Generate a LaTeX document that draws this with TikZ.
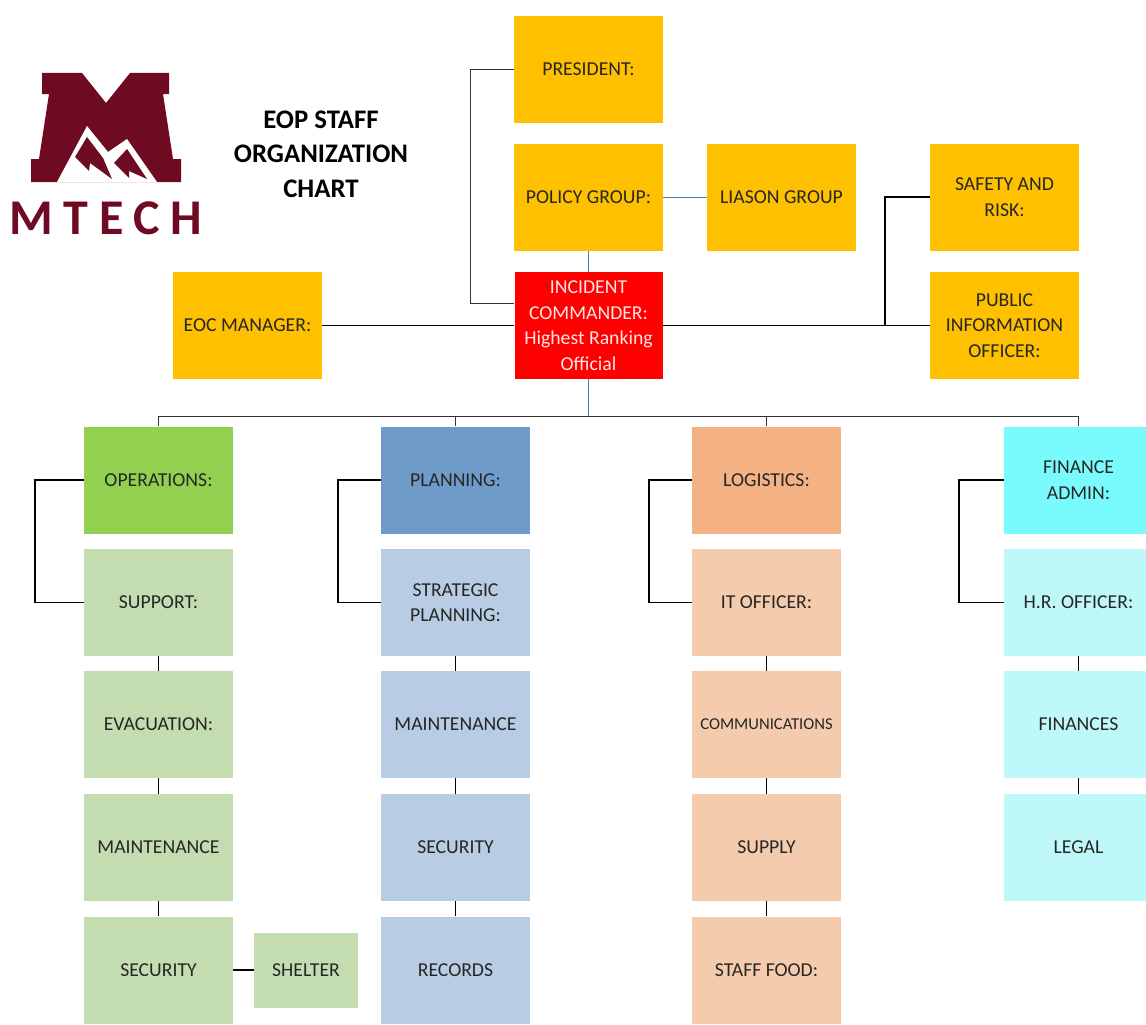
\documentclass[tikz,border=0pt]{standalone}
\usepackage{fontspec}
\setmainfont{Carlito}
\definecolor{amber}{HTML}{FFC000}
\definecolor{maroon}{HTML}{6E0A22}
\definecolor{opsg}{HTML}{92D050}
\definecolor{opsl}{HTML}{C3DDB0}
\definecolor{planb}{HTML}{6F9BC8}
\definecolor{planl}{HTML}{B8CCE4}
\definecolor{logo}{HTML}{F4B183}
\definecolor{logl}{HTML}{F4CBAC}
\definecolor{fina}{HTML}{79FBFD}
\definecolor{finl}{HTML}{BFF8F8}
\definecolor{bluel}{HTML}{4F7FB0}
\tikzset{
  box/.style={inner sep=1pt,align=center,font=\fontsize{19.7}{25.6}\selectfont,text=black!85},
  tall/.style={box,minimum width=149pt,minimum height=107pt},
  link/.style={draw=black,line width=1.5pt},
  thin link/.style={draw=black!80,line width=1pt},
  blue link/.style={draw=bluel,line width=0.9pt},
}
\begin{document}
\begin{tikzpicture}[x=1pt,y=-1pt]
\useasboundingbox (0,0) rectangle (1146,1025);
% logo
\fill[maroon] (42,73)--(82,73)--(106,103)--(130,73)--(169,73)--(169,94)--(163,94)--(173,159)--(181,159)--(181,182)--(31,182)--(31,159)--(39,159)--(49,94)--(42,94)--cycle;
\fill[white] (57,182)--(87,126)--(108,152)--(127,139)--(157,182)--cycle;
\fill[maroon] (75,157)--(87,137)--(103,158)--(112,179)--(90,163)--(89,171)--cycle;
\fill[maroon] (114,163)--(127,149)--(147,179)--(129,171)--(129,178)--cycle;
\node[font=\fontsize{50}{50}\selectfont\bfseries,text=maroon,inner sep=0pt] (logotext) at (106,218) {M\hspace{.21em}T\hspace{.21em}E\hspace{.21em}C\hspace{.21em}H};
\node[font=\fontsize{26.8}{34.5}\selectfont\bfseries,align=center,inner sep=0pt] (title) at (321,154) {EOP STAFF\\ORGANIZATION\\CHART};
% boxes
\node[tall,fill=amber] (pres) at (588.5,69.5) {PRESIDENT:};
\node[tall,fill=amber] (policy) at (588.5,197) {POLICY GROUP:};
\node[tall,fill=amber] (liason) at (781.5,197) {LIASON GROUP};
\node[tall,fill=amber] (safety) at (1004.5,197) {SAFETY AND\\RISK:};
\node[tall,fill=amber] (pio) at (1004.5,325.5) {PUBLIC\\INFORMATION\\OFFICER:};
\node[tall,fill=red,text=white!90!red,minimum width=148pt] (ic) at (588.5,325.5) {INCIDENT\\COMMANDER:\\Highest Ranking\\Official};
\node[tall,fill=amber] (eoc) at (247.5,325.5) {EOC MANAGER:};
\node[tall,fill=opsg] (ops) at (158.5,480) {OPERATIONS:};
\node[tall,fill=opsl] (sup) at (158.5,602.5) {SUPPORT:};
\node[tall,fill=opsl] (evac) at (158.5,724.5) {EVACUATION:};
\node[tall,fill=opsl] (omaint) at (158.5,847.5) {MAINTENANCE};
\node[tall,fill=opsl] (osec) at (158.5,970) {SECURITY};
\node[box,fill=opsl,minimum width=104pt,minimum height=75pt] (shelter) at (306,970) {SHELTER};
\node[tall,fill=planb] (plan) at (455.5,480) {PLANNING:};
\node[tall,fill=planl] (strat) at (455.5,602.5) {STRATEGIC\\PLANNING:};
\node[tall,fill=planl] (pmaint) at (455.5,724.5) {MAINTENANCE};
\node[tall,fill=planl] (psec) at (455.5,847.5) {SECURITY};
\node[tall,fill=planl] (rec) at (455.5,970) {RECORDS};
\node[tall,fill=logo] (log) at (766.5,480) {LOGISTICS:};
\node[tall,fill=logl] (it) at (766.5,602.5) {IT OFFICER:};
\node[tall,fill=logl,font=\fontsize{16.6}{20}\selectfont] (comm) at (766.5,724.5) {COMMUNICATIONS};
\node[tall,fill=logl] (supply) at (766.5,847.5) {SUPPLY};
\node[tall,fill=logl] (food) at (766.5,970) {STAFF FOOD:};
\node[tall,fill=fina] (fin) at (1078.5,480) {FINANCE\\ADMIN:};
\node[tall,fill=finl] (hr) at (1078.5,602.5) {H.R. OFFICER:};
\node[tall,fill=finl] (finc) at (1078.5,724.5) {FINANCES};
\node[tall,fill=finl] (legal) at (1078.5,847.5) {LEGAL};
% connectors
\coordinate (presbend) at (470,69.5);
\coordinate (safetybend) at (885,325.5);
\coordinate (busmid) at (588.5,416);
\coordinate (busleft) at (158.5,416);
\coordinate (busright) at (1078.5,416);
\draw[thin link] (pres.west) -- (presbend) |- ([yshift=22pt]ic.west);
\draw[blue link] (policy.east) -- (liason.west);
\draw[blue link] (policy.south) -- (ic.north);
\draw[link] (eoc.east) -- (ic.west);
\draw[link] (ic.east) -- (pio.west);
\draw[link] (safetybend) |- (safety.west);
\draw[blue link] (ic.south) -- (busmid);
\draw[thin link] (busleft) -- (busright);
\foreach \n/\x in {ops/158.5,plan/455.5,log/766.5,fin/1078.5}{\draw[thin link] (\x,416) -- (\n.north);}
\foreach \a/\b/\x in {ops/sup/35,plan/strat/338,log/it/649,fin/hr/959}{\draw[link] (\a.west) -- (\x,480) |- (\b.west);}
\foreach \a/\b in {sup/evac,evac/omaint,omaint/osec,strat/pmaint,pmaint/psec,psec/rec,it/comm,comm/supply,supply/food,hr/finc,finc/legal}{\draw[link] (\a.south) -- (\b.north);}
\draw[link] (osec.east) -- (shelter.west);
\end{tikzpicture}
\end{document}
